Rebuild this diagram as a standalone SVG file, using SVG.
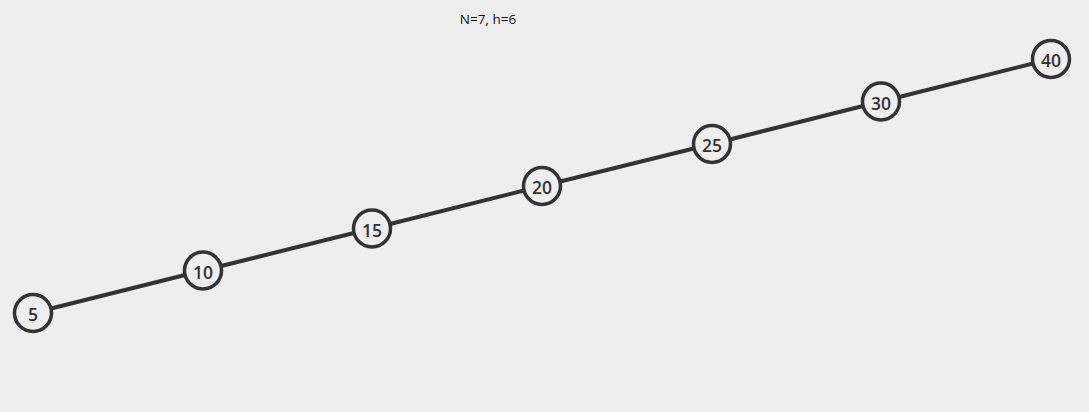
<svg xmlns="http://www.w3.org/2000/svg" width="1089" height="412" viewBox="0 0 1089 412">
<style>
.edge{stroke:#333;stroke-width:4;fill:none}
.node circle{fill:#eee;stroke:#333;stroke-width:3.5}
.node text{font-family:"Open Sans","DejaVu Sans",sans-serif;font-size:17.5px;font-weight:600;fill:#333;text-anchor:middle;dominant-baseline:central}
.title{font-family:"Open Sans","DejaVu Sans",sans-serif;font-size:13.5px;fill:#111;text-anchor:middle}
</style>
<rect width="1089" height="412" fill="#eeeeee"/>
<text class="title" x="488" y="24">N=7, h=6</text>
<g id="connectors">
<line class="edge" x1="33" y1="313" x2="203" y2="270.5"/>
<line class="edge" x1="203" y1="270.5" x2="372" y2="228.5"/>
<line class="edge" x1="372" y1="228.5" x2="542" y2="186"/>
<line class="edge" x1="542" y1="186" x2="712" y2="144"/>
<line class="edge" x1="712" y1="144" x2="881" y2="101.5"/>
<line class="edge" x1="881" y1="101.5" x2="1051" y2="59"/>
</g>
<g id="n5" class="node"><circle cx="33" cy="313" r="18.5"/><text x="33" y="314">5</text></g>
<g id="n10" class="node"><circle cx="203" cy="270.5" r="18.5"/><text x="203" y="271.5">10</text></g>
<g id="n15" class="node"><circle cx="372" cy="228.5" r="18.5"/><text x="372" y="229.5">15</text></g>
<g id="n20" class="node"><circle cx="542" cy="186" r="18.5"/><text x="542" y="187">20</text></g>
<g id="n25" class="node"><circle cx="712" cy="144" r="18.5"/><text x="712" y="145">25</text></g>
<g id="n30" class="node"><circle cx="881" cy="101.5" r="18.5"/><text x="881" y="102.5">30</text></g>
<g id="n40" class="node"><circle cx="1051" cy="59" r="18.5"/><text x="1051" y="60">40</text></g>
</svg>
